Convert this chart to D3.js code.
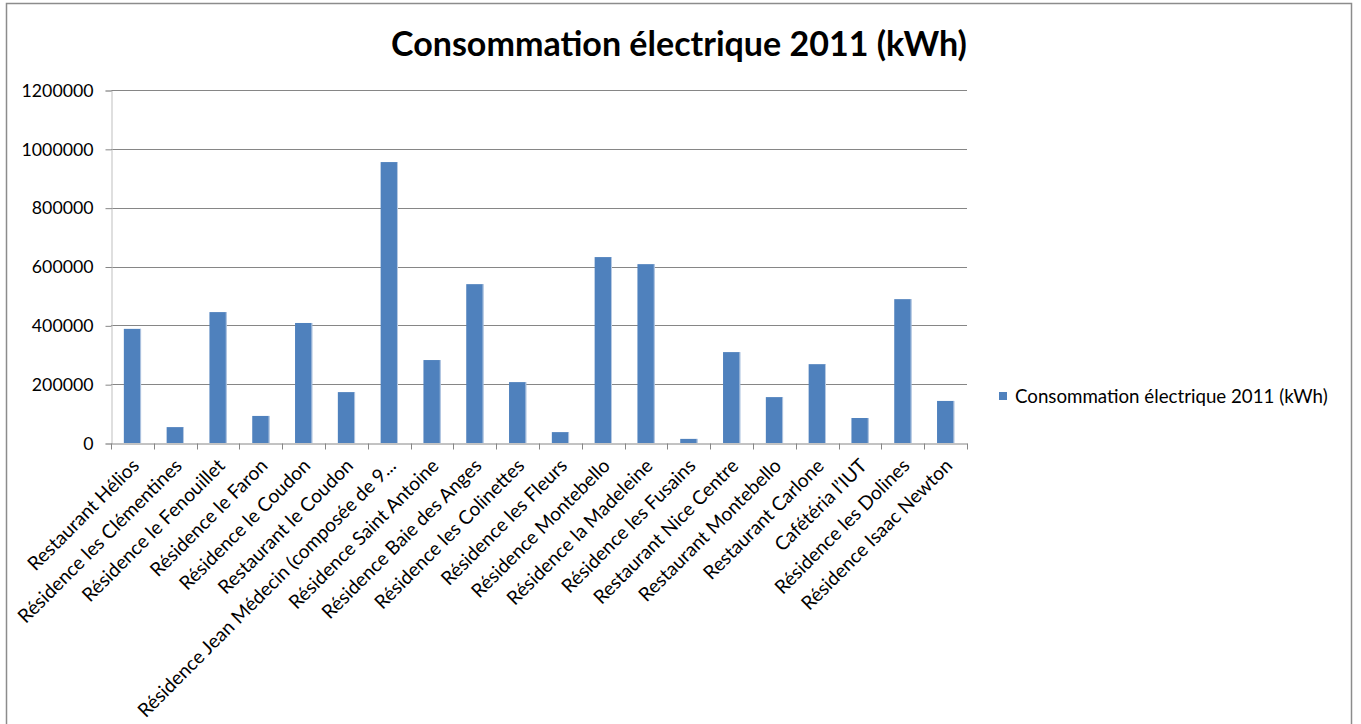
<!DOCTYPE html>
<html>
<head>
<meta charset="utf-8">
<script src="https://cdn.jsdelivr.net/npm/d3@7"></script>
<style>
  html, body { margin: 0; padding: 0; background: #fff; }
  svg { display: block; }
  text { font-family: Lato, "Open Sans", "DejaVu Sans", sans-serif; fill: #000; }
</style>
</head>
<body>
<svg id="chart" width="1361" height="724"></svg>
<script>
const categories = [
  "Restaurant Hélios",
  "Résidence les Clémentines",
  "Résidence le Fenouillet",
  "Résidence le Faron",
  "Résidence le Coudon",
  "Restaurant le Coudon",
  "Résidence Jean Médecin (composée de 9...",
  "Résidence Saint Antoine",
  "Résidence Baie des Anges",
  "Résidence les Colinettes",
  "Résidence les Fleurs",
  "Résidence Montebello",
  "Résidence la Madeleine",
  "Résidence les Fusains",
  "Restaurant Nice Centre",
  "Restaurant Montebello",
  "Restaurant Carlone",
  "Cafétéria l’IUT",
  "Résidence les Dolines",
  "Résidence Isaac Newton"
];
const values = [
  388000, 54000, 445000, 92000, 408000, 173000, 955000, 282000, 540000, 207000,
  37000, 632000, 608000, 14000, 309000, 156000, 268000, 85000, 489000, 143000
];
const yTicks = [0, 200000, 400000, 600000, 800000, 1000000, 1200000];
const seriesName = "Consommation électrique 2011 (kWh)";
const titleText = "Consommation électrique 2011 (kWh)";

const svg = d3.select("#chart");
const plot = { left: 111, right: 967, top: 90, bottom: 443 };
const barColor = "#4F81BD";
const gridColor = "#868686";

function fitText(sel, targetWidth) {
  const node = sel.node();
  const base = parseFloat(sel.attr("font-size"));
  const w = node.getComputedTextLength();
  if (w > 0) sel.attr("font-size", (base * targetWidth / w).toFixed(2));
  return sel;
}

// outer chart border
svg.append("rect")
  .attr("x", 6.5).attr("y", 3.5)
  .attr("width", 1345).attr("height", 800)
  .attr("fill", "#fff")
  .attr("stroke", "#8c8c8c").attr("stroke-width", 1.5);

// title
const title = svg.append("text")
  .attr("x", 391).attr("y", 56)
  .attr("font-size", 34).attr("font-weight", "bold")
  .text(titleText);
fitText(title, 576);

const y = d3.scaleLinear().domain([0, 1200000]).range([plot.bottom, plot.top]);
const xCat = d3.scaleBand().domain(categories).range([plot.left, plot.right]).padding(0);
const x = d3.scaleBand().domain(categories).range([plot.left, plot.right])
  .paddingInner(0.6).paddingOuter(0.3);

// gridlines
svg.append("g")
  .selectAll("line").data(yTicks.filter(d => d > 0)).join("line")
  .attr("x1", plot.left).attr("x2", plot.right)
  .attr("y1", d => Math.round(y(d)) + 0.5).attr("y2", d => Math.round(y(d)) + 0.5)
  .attr("stroke", gridColor).attr("stroke-width", 1);

// y axis
const yAxis = d3.axisLeft(y).tickValues(yTicks).tickSize(6).tickPadding(12)
  .tickFormat(d3.format("d"));
const yg = svg.append("g")
  .attr("transform", `translate(${plot.left + 0.5},0.5)`)
  .call(yAxis);
yg.select(".domain").attr("stroke", "#bfbfbf");
yg.selectAll(".tick line").attr("stroke", gridColor);
yg.selectAll(".tick text")
  .attr("font-family", "Lato, 'Open Sans', sans-serif")
  .attr("font-size", 18).attr("fill", "#000");
{
  const t = yg.selectAll(".tick text").filter(d => d === 1200000);
  const w = t.node().getComputedTextLength();
  const fs = 18 * 72 / w;
  yg.selectAll(".tick text").attr("font-size", fs.toFixed(2));
}

// bars
const bars = svg.append("g");
bars.selectAll("rect.bar").data(values).join("rect")
  .attr("class", "bar")
  .attr("x", (d, i) => x(categories[i]))
  .attr("width", x.bandwidth())
  .attr("y", d => y(d))
  .attr("height", d => y(0) - y(d))
  .attr("fill", barColor);
bars.selectAll("rect.edge").data(values).join("rect")
  .attr("class", "edge")
  .attr("x", (d, i) => x(categories[i]) + x.bandwidth() - 0.8)
  .attr("width", 1)
  .attr("y", d => y(d))
  .attr("height", d => y(0) - y(d))
  .attr("fill", "#b9cbe4");

// x axis
const xAxis = d3.axisBottom(xCat).tickSize(0).tickFormat("");
const xg = svg.append("g")
  .attr("transform", `translate(0,${Math.round(y(0)) + 0.5})`)
  .call(xAxis);
xg.select(".domain").attr("stroke", gridColor);
const bounds = categories.map(c => xCat(c)).concat([plot.right]);
xg.selectAll("line.bt").data(bounds).join("line")
  .attr("class", "bt")
  .attr("x1", d => Math.round(d) + 0.5).attr("x2", d => Math.round(d) + 0.5)
  .attr("y1", 0).attr("y2", 6)
  .attr("stroke", gridColor);

// rotated category labels
const labels = svg.append("g").selectAll("text").data(categories).join("text")
  .attr("text-anchor", "end")
  .attr("font-size", 18)
  .attr("transform", d => `translate(${xCat(d) + xCat.bandwidth() / 2 + 8},${plot.bottom + 24}) rotate(-45)`)
  .text(d => d);
{
  const longest = labels.filter((d, i) => i === 6);
  const w = longest.node().getComputedTextLength();
  const fs = 18 * 356 / w;
  labels.attr("font-size", fs.toFixed(2));
}

// legend
const lg = svg.append("g");
lg.append("rect")
  .attr("x", 999).attr("y", 392)
  .attr("width", 8).attr("height", 8)
  .attr("fill", barColor);
const lt = lg.append("text")
  .attr("x", 1015).attr("y", 396).attr("dy", "0.35em")
  .attr("font-size", 18)
  .text(seriesName);
fitText(lt, 313);
</script>
</body>
</html>
